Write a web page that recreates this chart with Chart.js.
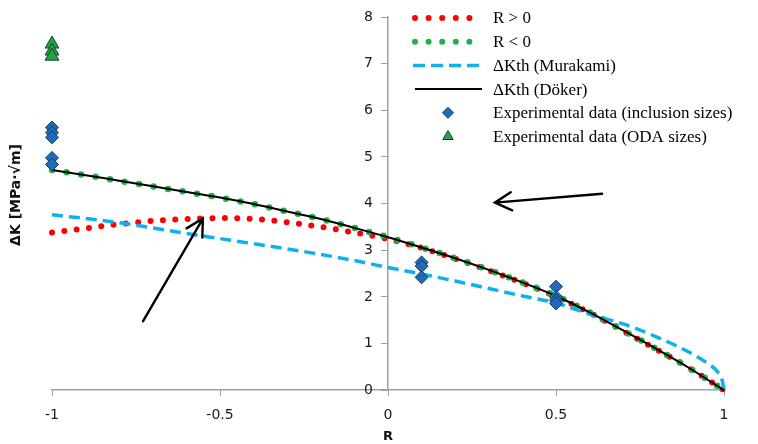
<!DOCTYPE html>
<html>
<head>
<meta charset="utf-8">
<script src="https://cdn.jsdelivr.net/npm/chart.js@4.4.1/dist/chart.umd.min.js"></script>
<style>
  html, body { margin: 0; padding: 0; background: #fff; }
  #wrap { width: 758px; height: 444px; position: relative; }
</style>
</head>
<body>
<div id="wrap"><canvas id="deltaK"></canvas></div>
<script>
// load ratio R
const rValues = [-1, -0.9, -0.8, -0.7, -0.6, -0.5, -0.4, -0.3, -0.2, -0.1, 0, 0.1, 0.2, 0.3, 0.4, 0.5, 0.6, 0.7, 0.8, 0.9, 1];
const rMurakami = [-1, -0.9, -0.8, -0.7, -0.6, -0.5, -0.4, -0.3, -0.2, -0.1, 0, 0.1, 0.2, 0.3, 0.4, 0.5, 0.6, 0.7, 0.8, 0.9, 0.95, 0.98, 0.995, 1];

// threshold curves, MPa·√m
const kPositive = [3.38, 3.47, 3.56, 3.63, 3.67, 3.69, 3.67, 3.6, 3.5, 3.38, 3.24, 3.05, 2.82, 2.57, 2.3, 2.01, 1.66, 1.27, 0.87, 0.46, 0];
const kNegative = [4.72, 4.61, 4.49, 4.37, 4.25, 4.13, 3.99, 3.83, 3.67, 3.48, 3.28, 3.06, 2.83, 2.58, 2.31, 2.02, 1.67, 1.28, 0.88, 0.46, 0];
const kMurakami = [3.76, 3.68, 3.59, 3.48, 3.36, 3.25, 3.14, 3.03, 2.91, 2.78, 2.63, 2.49, 2.34, 2.18, 2.02, 1.87, 1.63, 1.42, 1.14, 0.8, 0.58, 0.4, 0.2, 0];
const kDoker = [4.72, 4.61, 4.49, 4.37, 4.25, 4.13, 3.99, 3.83, 3.67, 3.48, 3.28, 3.06, 2.83, 2.58, 2.31, 2.02, 1.67, 1.28, 0.88, 0.46, 0];

// experimental points
const inclR = [-1, -1, -1, -1, -1, 0.1, 0.1, 0.1, 0.5, 0.5, 0.5, 0.5];
const inclK = [5.63, 5.52, 5.42, 4.98, 4.84, 2.74, 2.66, 2.42, 2.22, 2.0, 1.93, 1.86];
const odaR = [-1, -1, -1];
const odaK = [7.42, 7.27, 7.16];

const xTicks = [-1, -0.5, 0, 0.5, 1];
const yTicks = [0, 1, 2, 3, 4, 5, 6, 7, 8];

const legendLabels = ['R > 0', 'R < 0', 'ΔKth (Murakami)', 'ΔKth (Döker)',
  'Experimental data (inclusion sizes)', 'Experimental data (ODA sizes)'];

// annotation arrows in data units: tail R, tail K, tip R, tip K
const arrows = [[-0.729, 1.48, -0.551, 3.68], [0.637, 4.21, 0.318, 4.02]];

const RED = '#ff0000', GREEN = '#1fb04c', BLUE = '#10b0f0';
const DIAMOND = '#1f6bb8', DIAMOND_EDGE = '#163a63';
const TRI = '#1fa64a', TRI_EDGE = '#1c3f26';
const TICK_FONT = '14px "DejaVu Sans"';

const pts = (xs, ys) => xs.map((x, i) => ({ x: x, y: ys[i] }));

const lineBase = { showLine: true, pointRadius: 0, fill: false, clip: false, cubicInterpolationMode: 'monotone' };

const extras = {
  id: 'extras',
  afterDraw(chart) {
    const ctx = chart.ctx;
    const xs = chart.scales.x, ys = chart.scales.y;
    const axisX = xs.getPixelForValue(0);

    // y tick labels, left of the crossing axis
    ctx.save();
    ctx.fillStyle = '#1a1a1a';
    ctx.font = TICK_FONT;
    ctx.textAlign = 'right';
    ctx.textBaseline = 'middle';
    ys.ticks.forEach(t => ctx.fillText(String(t.value), axisX - 15, ys.getPixelForValue(t.value)));
    ctx.restore();

    // y title
    ctx.save();
    ctx.fillStyle = '#111';
    ctx.font = 'bold 14px "DejaVu Sans"';
    ctx.textAlign = 'center';
    ctx.textBaseline = 'middle';
    ctx.translate(16, 195);
    ctx.rotate(-Math.PI / 2);
    ctx.fillText('ΔK [MPa·√m]', 0, 0);
    ctx.restore();

    // x title
    ctx.save();
    ctx.fillStyle = '#111';
    ctx.font = 'bold 13px "DejaVu Sans"';
    ctx.textAlign = 'center';
    ctx.textBaseline = 'middle';
    ctx.fillText('R', axisX, 437);
    ctx.restore();

    // arrows
    ctx.save();
    ctx.strokeStyle = '#000';
    ctx.lineWidth = 2.4;
    ctx.lineCap = 'round';
    arrows.forEach(a => {
      const x0 = xs.getPixelForValue(a[0]), y0 = ys.getPixelForValue(a[1]);
      const x1 = xs.getPixelForValue(a[2]), y1 = ys.getPixelForValue(a[3]);
      const ang = Math.atan2(y1 - y0, x1 - x0);
      const head = 19, spread = 0.5;
      ctx.beginPath();
      ctx.moveTo(x0, y0);
      ctx.lineTo(x1, y1);
      ctx.moveTo(x1 - head * Math.cos(ang - spread), y1 - head * Math.sin(ang - spread));
      ctx.lineTo(x1, y1);
      ctx.lineTo(x1 - head * Math.cos(ang + spread), y1 - head * Math.sin(ang + spread));
      ctx.stroke();
    });
    ctx.restore();

    // legend
    const lx0 = 413, lx1 = 482, tx = 493, top = 18, step = 23.7;
    ctx.save();
    ctx.font = '17px "Liberation Serif"';
    ctx.textBaseline = 'middle';
    ctx.textAlign = 'left';
    legendLabels.forEach((label, i) => {
      const y = top + i * step;
      ctx.save();
      if (i === 0 || i === 1) {
        ctx.strokeStyle = i === 0 ? RED : GREEN;
        ctx.lineWidth = 6;
        ctx.lineCap = 'round';
        ctx.setLineDash([0, 13.6]);
        ctx.beginPath(); ctx.moveTo(lx0 + 2, y); ctx.lineTo(lx1, y); ctx.stroke();
      } else if (i === 2) {
        ctx.strokeStyle = BLUE;
        ctx.lineWidth = 3.5;
        ctx.setLineDash([12, 6]);
        ctx.beginPath(); ctx.moveTo(lx0, y); ctx.lineTo(lx1 + 2, y); ctx.stroke();
      } else if (i === 3) {
        ctx.strokeStyle = '#000';
        ctx.lineWidth = 2;
        ctx.beginPath(); ctx.moveTo(lx0 + 2, y); ctx.lineTo(lx1, y); ctx.stroke();
      } else if (i === 4) {
        ctx.fillStyle = DIAMOND; ctx.strokeStyle = DIAMOND_EDGE; ctx.lineWidth = 1;
        Chart.helpers.drawPoint(ctx, { pointStyle: 'rectRot', radius: 5.5, borderWidth: 1 }, 448, y);
      } else {
        ctx.fillStyle = TRI; ctx.strokeStyle = TRI_EDGE; ctx.lineWidth = 1;
        Chart.helpers.drawPoint(ctx, { pointStyle: 'triangle', radius: 6, borderWidth: 1 }, 448, y);
      }
      ctx.restore();
      ctx.fillStyle = '#000';
      ctx.fillText(label, tx, y + 1);
    });
    ctx.restore();
  }
};

new Chart(document.getElementById('deltaK'), {
  type: 'scatter',
  data: {
    datasets: [
      { label: legendLabels[5], data: pts(odaR, odaK), pointStyle: 'triangle', pointRadius: 8,
        backgroundColor: TRI, borderColor: TRI_EDGE, borderWidth: 1, clip: false },
      { label: legendLabels[4], data: pts(inclR, inclK), pointStyle: 'rectRot', pointRadius: 6.5,
        backgroundColor: DIAMOND, borderColor: DIAMOND_EDGE, borderWidth: 1, clip: false },
      Object.assign({ label: legendLabels[3], data: pts(rValues, kDoker), borderColor: '#000', borderWidth: 2 }, lineBase),
      Object.assign({ label: legendLabels[2], data: pts(rMurakami, kMurakami), borderColor: BLUE, borderWidth: 3.5,
        borderDash: [11, 6] }, lineBase),
      Object.assign({ label: legendLabels[1], data: pts(rValues, kNegative), borderColor: GREEN, borderWidth: 6.5,
        borderDash: [0, 14.7], borderCapStyle: 'round' }, lineBase),
      Object.assign({ label: legendLabels[0], data: pts(rValues, kPositive), borderColor: RED, borderWidth: 6,
        borderDash: [0, 12.4], borderCapStyle: 'round' }, lineBase)
    ]
  },
  options: {
    responsive: true,
    maintainAspectRatio: false,
    animation: false,
    layout: { padding: { left: 52, right: 34, top: 17, bottom: 9 } },
    plugins: { legend: { display: false }, tooltip: { enabled: false } },
    scales: {
      x: {
        type: 'linear', min: -1, max: 1,
        afterBuildTicks: s => { s.ticks = xTicks.map(v => ({ value: v })); },
        grid: { drawOnChartArea: false, color: '#a0a0a0', tickLength: 6 },
        border: { color: '#a0a0a0', width: 1.5 },
        ticks: { color: '#1a1a1a', font: { family: 'DejaVu Sans', size: 14 }, padding: 11,
          callback: v => String(v) }
      },
      y: {
        type: 'linear', min: 0, max: 8, position: { x: 0 },
        afterBuildTicks: s => { s.ticks = yTicks.map(v => ({ value: v })); },
        grid: { drawOnChartArea: false, color: '#a0a0a0', tickLength: 6 },
        border: { color: '#a0a0a0', width: 1.5 },
        ticks: { display: false }
      }
    }
  },
  plugins: [extras]
});
</script>
</body>
</html>
